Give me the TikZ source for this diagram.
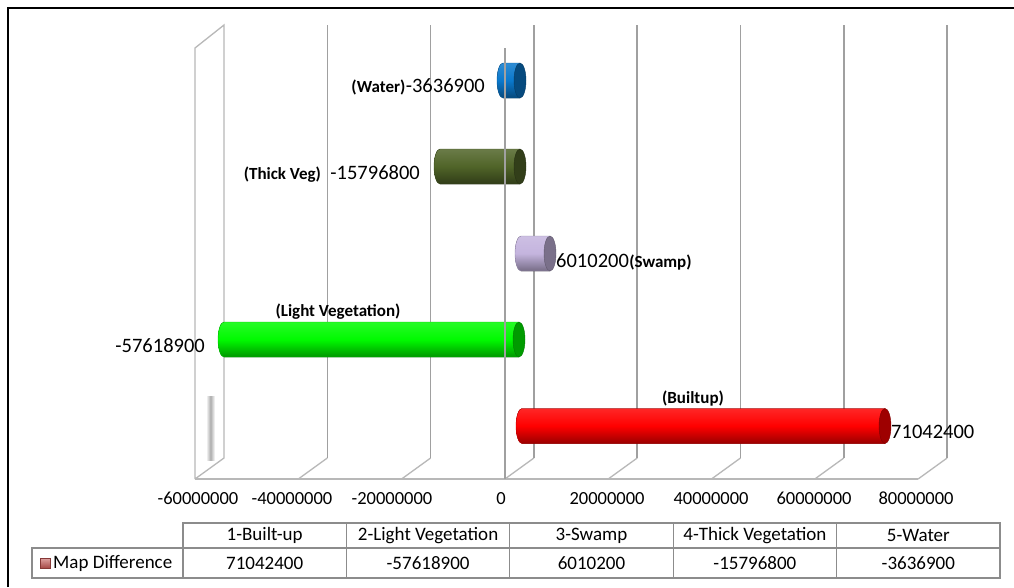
\documentclass[tikz,border=0pt]{standalone}
\usepackage{fontspec}
\setmainfont{Carlito}
\usetikzlibrary{positioning}
\definecolor{gridgray}{HTML}{A0A0A0}
\definecolor{wallgray}{HTML}{B8B8B8}
\definecolor{tablegray}{HTML}{8C8C8C}
\definecolor{waterblue}{HTML}{0A78CC}
\definecolor{thickveg}{HTML}{506428}
\definecolor{swamp}{HTML}{C4B4DE}
\definecolor{lightveg}{HTML}{00FA00}
\definecolor{builtup}{HTML}{FF0000}
\definecolor{keyred}{HTML}{C0504D}
\tikzset{gridline/.style={draw=gridgray, line width=1.5pt},
         wall/.style={draw=wallgray, line width=1.3pt},
         barbody/.style={draw=#1!80!black, line width=0.4pt, top color=#1!85!white, bottom color=#1!60!black, middle color=#1},
         barcap/.style={fill=#1!62!black, draw=#1!50!black, line width=0.4pt},
         numlabel/.style={inner sep=0pt, font=\fontsize{20.5}{24}\selectfont},
         namelabel/.style={inner sep=0pt, font=\fontsize{17}{20}\selectfont\bfseries},
         axislabel/.style={inner sep=0pt, font=\fontsize{18.5}{22}\selectfont},
         celltext/.style={inner sep=0pt, font=\fontsize{19}{22}\selectfont},
         cell/.style={celltext, draw=tablegray, line width=1.2pt},
        }

\begin{document}
\begin{tikzpicture}[x=1pt, y=-1pt]
        \useasboundingbox (0,0) rectangle (1014,587);
        \fill[white] (0,0) rectangle (1014,587);
        \draw[line width=2pt] (8,587)--(8,8)--(1014,8);

        % left wall and floor
        \draw[wall] (195,479)--(195,48)--(224,25)--(224,458)--(195,479);
        \shade[left color=white, right color=white, middle color=gray!65] (206,396) rectangle (215,460);
        \draw[wall] (195,479)--(918,479);
        \foreach \i in {1,...,7}
            \draw[wall] ({195+\i*103.3},479)--({224+\i*103.3},458);
        \foreach \i in {1,...,7}
            \draw[gridline] ({224+\i*103.3},25)--({224+\i*103.3},458);

        % bars
        \fill[barbody=waterblue] (503,63)--(520,63)--(520,98)--(503,98) arc[start angle=270, end angle=90, x radius=6pt, y radius=17.5pt]--cycle;
        \draw[barcap=waterblue] (520,80.5) ellipse[x radius=6pt, y radius=17.5pt];
        \fill[barbody=thickveg] (440,149)--(520,149)--(520,184)--(440,184) arc[start angle=270, end angle=90, x radius=6pt, y radius=17.5pt]--cycle;
        \draw[barcap=thickveg] (520,166.5) ellipse[x radius=6pt, y radius=17.5pt];
        \fill[barbody=swamp] (521,236)--(550,236)--(550,271)--(521,271) arc[start angle=270, end angle=90, x radius=6pt, y radius=17.5pt]--cycle;
        \draw[barcap=swamp] (550,253.5) ellipse[x radius=6pt, y radius=17.5pt];
        \fill[barbody=lightveg] (224,322)--(519,322)--(519,357)--(224,357) arc[start angle=270, end angle=90, x radius=6pt, y radius=17.5pt]--cycle;
        \draw[barcap=lightveg] (519,339.5) ellipse[x radius=6pt, y radius=17.5pt];
        \fill[barbody=builtup] (522,408.5)--(885,408.5)--(885,443.5)--(522,443.5) arc[start angle=270, end angle=90, x radius=6pt, y radius=17.5pt]--cycle;
        \draw[barcap=builtup] (885,426) ellipse[x radius=6pt, y radius=17.5pt];

        \draw[gridline] (505,48)--(505,479);

        % data labels
        \node[numlabel, anchor=base east](waterval)at(485,92){-3636900};
        \node[namelabel, base left=0pt of waterval](watername){(Water)};
        \node[numlabel, anchor=base east](thickval)at(420,179){-15796800};
        \node[namelabel, base left=9pt of thickval](thickname){(Thick Veg)};
        \node[numlabel, anchor=base west](swampval)at(556,267){6010200};
        \node[namelabel, base right=0pt of swampval](swampname){(Swamp)};
        \node[numlabel, anchor=base east](lightval)at(205,352){-57618900};
        \node[namelabel, anchor=base](lightname)at(338,316){(Light Vegetation)};
        \node[numlabel, anchor=base west](builtval)at(891,438){71042400};
        \node[namelabel, anchor=base](builtname)at(693,403){(Builtup)};

        % axis
        \foreach \x/\v in {198/-60000000, 292/-40000000, 392/-20000000, 501/0, 607/20000000, 711/40000000, 814/60000000, 916/80000000}
            \node[axislabel, anchor=base](ax\x)at(\x,504){\v};

        % data table
        \foreach \cat/\val [count=\i from 0] in {1-Built-up/71042400, 2-Light Vegetation/-57618900, 3-Swamp/6010200, 4-Thick Vegetation/-15796800, 5-Water/-3636900}{
            \node[cell, minimum width=163.4pt, minimum height=25pt](head\i)at({264.7+\i*163.4},535.5){\cat};
            \node[cell, minimum width=163.4pt, minimum height=30pt](val\i)at({264.7+\i*163.4},563){\val};
        }
        \node[cell, minimum width=151pt, minimum height=30pt](rowhead)at(107.5,563){};
        \node[celltext, anchor=west](rowname)at(53,563){Map Difference};
        \node[draw=keyred!70!black, line width=0.5pt, top color=keyred!55!white, bottom color=keyred!85!black, minimum size=10pt, inner sep=0pt](key)at(45,563.5){};
\end{tikzpicture}
\end{document}
